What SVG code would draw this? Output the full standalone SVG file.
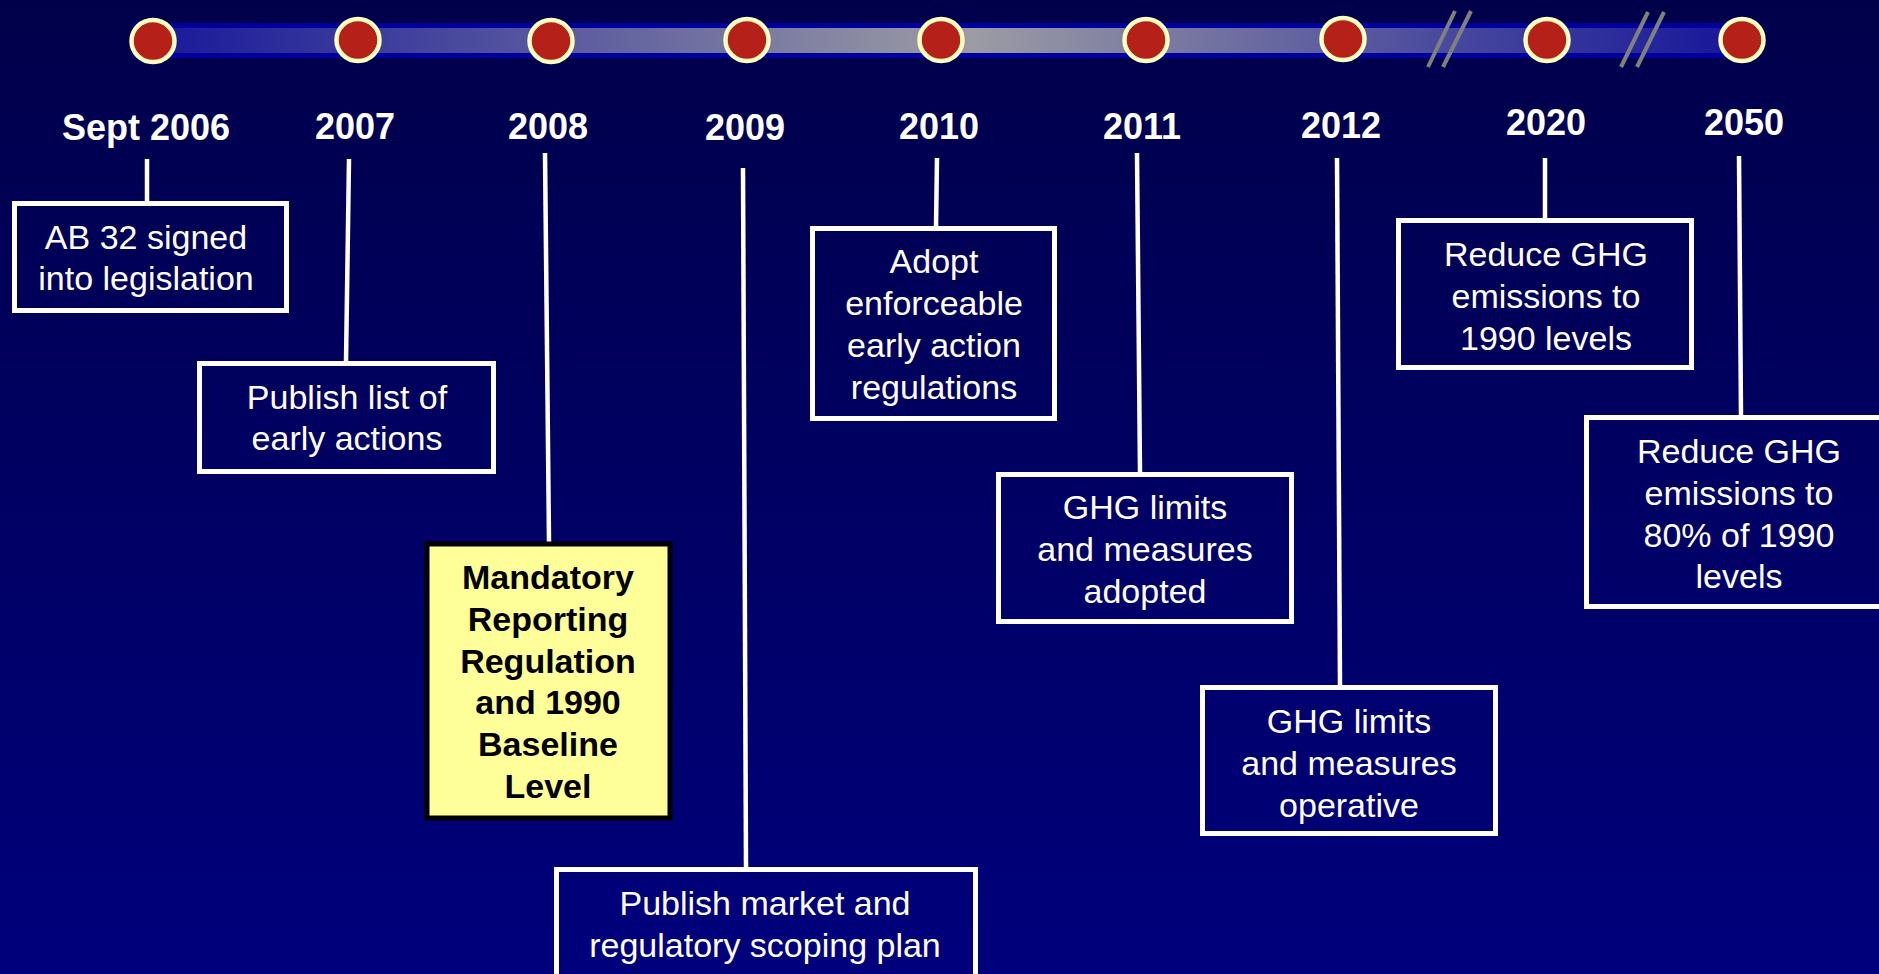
<svg xmlns="http://www.w3.org/2000/svg" width="1879" height="974" viewBox="0 0 1879 974">
<defs>
<linearGradient id="bg" x1="0" y1="0" x2="0" y2="1">
<stop offset="0" stop-color="#00004A"/>
<stop offset="1" stop-color="#00007C"/>
</linearGradient>
<linearGradient id="bar" x1="133" y1="0" x2="1745" y2="0" gradientUnits="userSpaceOnUse">
<stop offset="0" stop-color="#15159A"/>
<stop offset="0.52" stop-color="#9C9CA4"/>
<stop offset="1" stop-color="#15159A"/>
</linearGradient>
<style>
.yr{font-family:"Liberation Sans",Arial,sans-serif;font-weight:bold;font-size:36px;fill:#FFFFFF;text-anchor:middle}
.bx{fill:none;stroke:#FFFFFF;stroke-width:5}
.tx{font-family:"Liberation Sans",Arial,sans-serif;font-size:34px;fill:#FFFFFF;text-anchor:middle}
.tb{font-family:"Liberation Sans",Arial,sans-serif;font-size:34px;font-weight:bold;fill:#000000;text-anchor:middle}
.dot{fill:#B52019;stroke:#FFFFC0;stroke-width:4.5}
.cn{stroke:#FFFFFF;stroke-width:4.5;fill:none}
.brk{stroke:#808080;stroke-width:4}
</style>
</defs>
<rect x="0" y="0" width="1879" height="974" fill="url(#bg)"/>
<g id="timeline">
<rect x="133" y="23" width="1612" height="35" fill="#00009C"/>
<rect x="133" y="28" width="1612" height="25" fill="url(#bar)"/>
<line class="brk" x1="1455" y1="11" x2="1428" y2="67"/>
<line class="brk" x1="1471" y1="11" x2="1443" y2="67"/>
<line class="brk" x1="1648" y1="12" x2="1621" y2="67"/>
<line class="brk" x1="1664" y1="12" x2="1637" y2="67"/>
<ellipse class="dot" cx="153" cy="41" rx="21.5" ry="21"/>
<ellipse class="dot" cx="358" cy="40" rx="21.5" ry="21"/>
<ellipse class="dot" cx="551" cy="41" rx="21.5" ry="21"/>
<ellipse class="dot" cx="747" cy="40" rx="21.5" ry="21"/>
<ellipse class="dot" cx="941" cy="40" rx="21.5" ry="21"/>
<ellipse class="dot" cx="1146" cy="40" rx="21.5" ry="21"/>
<ellipse class="dot" cx="1343" cy="39" rx="21.5" ry="21"/>
<ellipse class="dot" cx="1547" cy="40" rx="21.5" ry="21"/>
<ellipse class="dot" cx="1742" cy="40" rx="21.5" ry="21"/>
</g>
<g id="years">
<text class="yr" x="146" y="140">Sept 2006</text>
<text class="yr" x="355" y="139">2007</text>
<text class="yr" x="548" y="139">2008</text>
<text class="yr" x="745" y="140">2009</text>
<text class="yr" x="939" y="139">2010</text>
<text class="yr" x="1142" y="139">2011</text>
<text class="yr" x="1341" y="138">2012</text>
<text class="yr" x="1546" y="135">2020</text>
<text class="yr" x="1744" y="135">2050</text>
</g>
<g id="connectors">
<line class="cn" x1="147" y1="159" x2="147" y2="202"/>
<line class="cn" x1="349" y1="159" x2="346" y2="362"/>
<line class="cn" x1="545" y1="153" x2="549" y2="542"/>
<line class="cn" x1="743" y1="168" x2="746" y2="868"/>
<line class="cn" x1="937" y1="158" x2="936" y2="228"/>
<line class="cn" x1="1137" y1="153" x2="1140" y2="473"/>
<line class="cn" x1="1337" y1="158" x2="1340" y2="686"/>
<line class="cn" x1="1545" y1="158" x2="1545" y2="219"/>
<line class="cn" x1="1739" y1="156" x2="1741" y2="416"/>
</g>
<g id="n2006">
<rect class="bx" x="14.5" y="203.5" width="272" height="107"/>
<text class="tx" x="146" y="249">AB 32 signed</text>
<text class="tx" x="146" y="290">into legislation</text>
</g>
<g id="n2007">
<rect class="bx" x="199.5" y="363.5" width="294" height="108"/>
<text class="tx" x="347" y="409">Publish list of</text>
<text class="tx" x="347" y="450">early actions</text>
</g>
<g id="n2008">
<rect x="427" y="544" width="243" height="274" fill="#FFFF99" stroke="#000000" stroke-width="5"/>
<text class="tb" x="548" y="589">Mandatory</text>
<text class="tb" x="548" y="631">Reporting</text>
<text class="tb" x="548" y="673">Regulation</text>
<text class="tb" x="548" y="714">and 1990</text>
<text class="tb" x="548" y="756">Baseline</text>
<text class="tb" x="548" y="798">Level</text>
</g>
<g id="n2009">
<rect class="bx" x="556.5" y="869.5" width="419" height="140"/>
<text class="tx" x="765" y="915">Publish market and</text>
<text class="tx" x="765" y="957">regulatory scoping plan</text>
</g>
<g id="n2010">
<rect class="bx" x="812.5" y="228.5" width="242" height="190"/>
<text class="tx" x="934" y="273">Adopt</text>
<text class="tx" x="934" y="315">enforceable</text>
<text class="tx" x="934" y="357">early action</text>
<text class="tx" x="934" y="399">regulations</text>
</g>
<g id="n2011">
<rect class="bx" x="998.5" y="474.5" width="293" height="147"/>
<text class="tx" x="1145" y="519">GHG limits</text>
<text class="tx" x="1145" y="561">and measures</text>
<text class="tx" x="1145" y="603">adopted</text>
</g>
<g id="n2012">
<rect class="bx" x="1202.5" y="687.5" width="293" height="146"/>
<text class="tx" x="1349" y="733">GHG limits</text>
<text class="tx" x="1349" y="775">and measures</text>
<text class="tx" x="1349" y="817">operative</text>
</g>
<g id="n2020">
<rect class="bx" x="1398.5" y="220.5" width="293" height="147"/>
<text class="tx" x="1546" y="266">Reduce GHG</text>
<text class="tx" x="1546" y="308">emissions to</text>
<text class="tx" x="1546" y="350">1990 levels</text>
</g>
<g id="n2050">
<rect class="bx" x="1586.5" y="417.5" width="310" height="189"/>
<text class="tx" x="1739" y="463">Reduce GHG</text>
<text class="tx" x="1739" y="505">emissions to</text>
<text class="tx" x="1739" y="547">80% of 1990</text>
<text class="tx" x="1739" y="588">levels</text>
</g>
</svg>
